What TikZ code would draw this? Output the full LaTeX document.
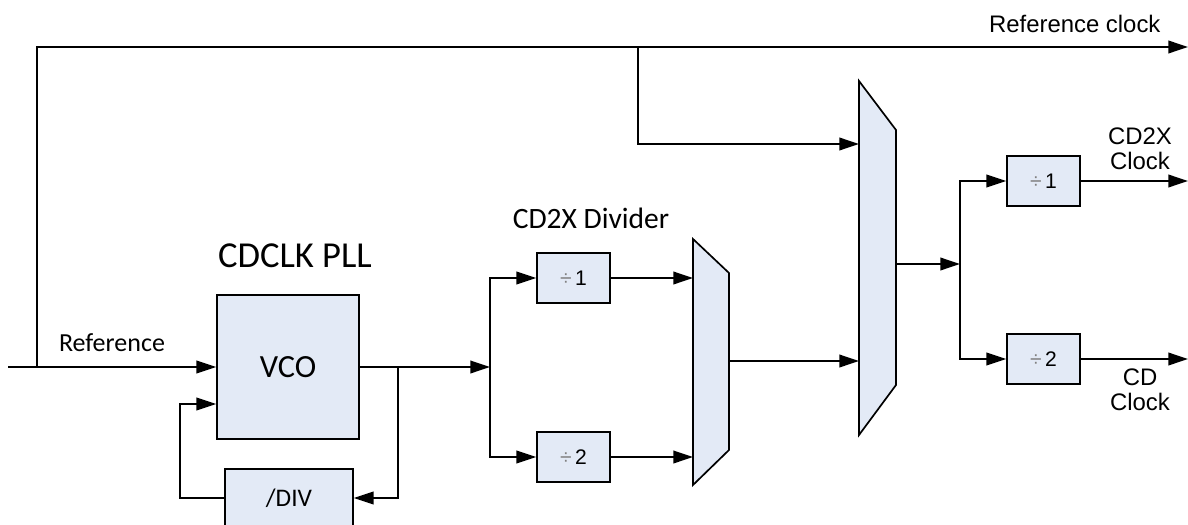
\documentclass[tikz,border=0pt]{standalone}
\usepackage{fontspec}
\setmainfont{Liberation Sans}
\newfontfamily\calibri{Carlito}
\usetikzlibrary{arrows.meta, positioning}
\definecolor{blockfill}{RGB}{227,234,246}

\begin{document}
\begin{tikzpicture}[x=0.025cm, y=-0.025cm, line width=1.2pt,
    >={Triangle[length=14pt,width=9pt]},
    block/.style={draw, fill=blockfill, inner sep=0pt, minimum width=1.825cm,
        minimum height=1.25cm, font=\fontsize{15}{17}\selectfont},
    lbl/.style={font=\fontsize{17}{18}\selectfont, align=center}]

    \useasboundingbox (0,0) rectangle (1188,525);

    % CDCLK PLL
    \node[block, minimum width=3.55cm, minimum height=3.6cm,
        font=\calibri\fontsize{23}{26}\selectfont] (vco) at (288,367) {VCO};
    \node[block, minimum width=3.2cm, minimum height=1.45cm,
        font=\calibri\fontsize{18}{20}\selectfont] (div) at (289,498) {/DIV};
    \node[font=\calibri\fontsize{26}{30}\selectfont] (pll) at (295,256) {CDCLK PLL};
    \node[font=\calibri\fontsize{18.5}{20}\selectfont] (reflbl) at (112,343) {Reference};

    \coordinate (refin) at (8,367);
    \coordinate (reftap) at (37,367);
    \coordinate (refout) at (1188,47);
    \draw[->] (refin) -- (vco.west);
    \draw[->] (reftap) |- (refout);
    \node[lbl, anchor=east] (refclk) at (1166,24) {Reference clock};

    \draw[->] (div.west) -- ++(-44,0) |- ([yshift=-0.925cm]vco.west);
    \draw[->] (vco.east) -- ++(38,0) |- (div.east);

    % CD2X divider
    \coordinate (split1) at (490,367);
    \node[block] (d1) at (573.5,278) {\textcolor{gray}{÷}\,1};
    \node[block] (d2) at (573.5,457) {\textcolor{gray}{÷}\,2};
    \node[font=\calibri\fontsize{21}{24}\selectfont] (divlbl) at (591,218) {CD2X Divider};

    \draw[fill=blockfill] (693,239) -- (729,273) -- (729,450) -- (693,485) -- cycle;
    \coordinate (mux1a) at (693,278);
    \coordinate (mux1b) at (693,457);
    \coordinate (mux1o) at (729,361);

    \draw[->] (vco.east) -- (split1);
    \draw[->] (split1) |- (d1.west);
    \draw[->] (split1) |- (d2.west);
    \draw[->] (d1.east) -- (mux1a);
    \draw[->] (d2.east) -- (mux1b);

    % output select
    \draw[fill=blockfill] (859,81) -- (896,130) -- (896,385) -- (859,435) -- cycle;
    \coordinate (mux2a) at (859,144);
    \coordinate (mux2b) at (859,361);
    \coordinate (mux2o) at (896,264);
    \coordinate (reftap2) at (638,47);

    \draw[->] (mux1o) -- (mux2b);
    \draw[->] (reftap2) |- (mux2a);

    % output dividers
    \coordinate (split2) at (960,264);
    \node[block] (e1) at (1043.5,181) {\textcolor{gray}{÷}\,1};
    \node[block] (e2) at (1043.5,359) {\textcolor{gray}{÷}\,2};
    \coordinate (out1) at (1188,181);
    \coordinate (out2) at (1188,359);

    \draw[->] (mux2o) -- (split2);
    \draw[->] (split2) |- (e1.west);
    \draw[->] (split2) |- (e2.west);
    \draw[->] (e1.east) -- (out1);
    \draw[->] (e2.east) -- (out2);
    \node[lbl] (cd2xlbl) at (1140,149) {CD2X\\Clock};
    \node[lbl] (cdlbl) at (1140,390) {CD\\Clock};

\end{tikzpicture}
\end{document}
